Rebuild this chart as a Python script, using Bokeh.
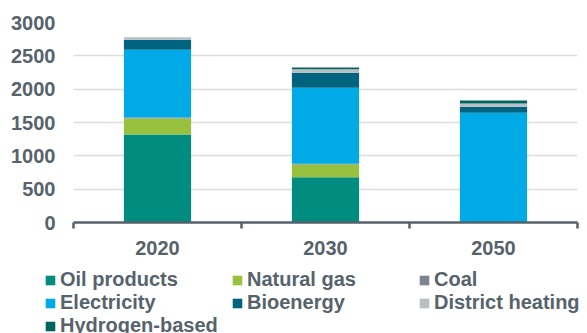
from bokeh.plotting import figure
from bokeh.models import (Range1d, LinearAxis, FixedTicker, Legend, LegendItem)
from bokeh.embed import file_html
from bokeh.resources import INLINE

# Final energy consumption by carrier
years = ["2020", "2030", "2050"]
oil_products = [1320, 680, 0]
natural_gas = [240, 190, 0]
coal = [15, 10, 0]
electricity = [1015, 1140, 1645]
bioenergy = [150, 225, 90]
district_heating = [40, 55, 50]
hydrogen_based = [0, 25, 45]

series_names = ["Oil products", "Natural gas", "Coal", "Electricity",
                "Bioenergy", "District heating", "Hydrogen-based"]
series_values = [oil_products, natural_gas, coal, electricity,
                 bioenergy, district_heating, hydrogen_based]
colors = ["#008c7e", "#98c13d", "#7b858e", "#00aae7",
          "#00637f", "#b9bec3", "#006560"]

y_ticks = [0, 500, 1000, 1500, 2000, 2500, 3000]

FONT = "Liberation Sans"
TEXT = "#57636c"
AXIS = "#56626b"

# one unit-wide slot per year; bars sit at the slot centres
n = len(years)
slot_centres = [i + 0.5 for i in range(n)]
slot_edges = list(range(n + 1))

p = figure(width=587, height=268, output_backend="svg", toolbar_location=None,
           x_range=Range1d(0, n), y_range=Range1d(0, 3000),
           x_axis_location=None,
           min_border_left=73, min_border_right=10,
           min_border_top=22, min_border_bottom=46)
p.outline_line_color = None
p.background_fill_color = "white"

data = {"x": slot_centres, "year": years}
for name, vals in zip(series_names, series_values):
    data[name] = vals

p.vbar_stack(series_names, x="x", width=0.4, source=data,
             color=colors, line_color=None)

# y axis: labels only, light horizontal grid
p.yaxis.ticker = FixedTicker(ticks=y_ticks)
p.yaxis.axis_line_color = None
p.yaxis.major_tick_line_color = None
p.yaxis.minor_tick_line_color = None
p.yaxis.major_tick_out = 0
p.yaxis.major_label_standoff = 18
p.yaxis.major_label_text_font = FONT
p.yaxis.major_label_text_font_style = "bold"
p.yaxis.major_label_text_font_size = "20px"
p.yaxis.major_label_text_color = TEXT
p.ygrid.ticker = FixedTicker(ticks=y_ticks)
p.ygrid.grid_line_color = "#dcdcdc"
p.ygrid.grid_line_width = 1.5
p.xgrid.grid_line_color = None

# x axis line with tick marks between the years
edge_axis = LinearAxis(ticker=FixedTicker(ticks=slot_edges),
                       major_label_overrides={e: "" for e in slot_edges},
                       major_label_text_font_size="0px",
                       major_label_standoff=0,
                       axis_line_color=AXIS, axis_line_width=2.5,
                       major_tick_line_color=AXIS, major_tick_line_width=2.5,
                       major_tick_in=0, major_tick_out=6,
                       minor_tick_line_color=None)
p.add_layout(edge_axis, "below")

# year labels under each bar
year_axis = LinearAxis(ticker=FixedTicker(ticks=slot_centres),
                       major_label_overrides=dict(zip(slot_centres, years)),
                       axis_line_color=None, major_tick_line_color=None,
                       minor_tick_line_color=None,
                       major_tick_in=0, major_tick_out=0,
                       major_label_standoff=12,
                       major_label_text_font=FONT,
                       major_label_text_font_style="bold",
                       major_label_text_font_size="20px",
                       major_label_text_color=TEXT)
p.add_layout(year_axis, "below")

# legend strip underneath the chart (its own root, full-width frame);
# the swatch renderers sit entirely outside its visible range
lg = figure(width=587, height=65, output_backend="svg", toolbar_location=None,
            x_range=Range1d(0, 1), y_range=Range1d(0, 1),
            x_axis_location=None, y_axis_location=None,
            min_border=0)
lg.outline_line_color = None
lg.grid.visible = False
swatches = [lg.vbar(x=[-5], top=[-5], bottom=[-6], width=0.1,
                    color=c, line_color=None)
            for c in colors]

legend = Legend(items=[LegendItem(label=nm, renderers=[r])
                       for nm, r in zip(series_names, swatches)],
                orientation="horizontal", ncols=3,
                location=(44, -4),
                padding=0, margin=0, spacing=-5,
                border_line_color=None, background_fill_alpha=0,
                glyph_width=12, glyph_height=12, label_standoff=4,
                label_width=171, label_height=16,
                label_text_font=FONT, label_text_font_style="bold",
                label_text_font_size="20px", label_text_color=TEXT)
lg.add_layout(legend, "center")

open("out.html", "w").write(file_html([p, lg], INLINE))
